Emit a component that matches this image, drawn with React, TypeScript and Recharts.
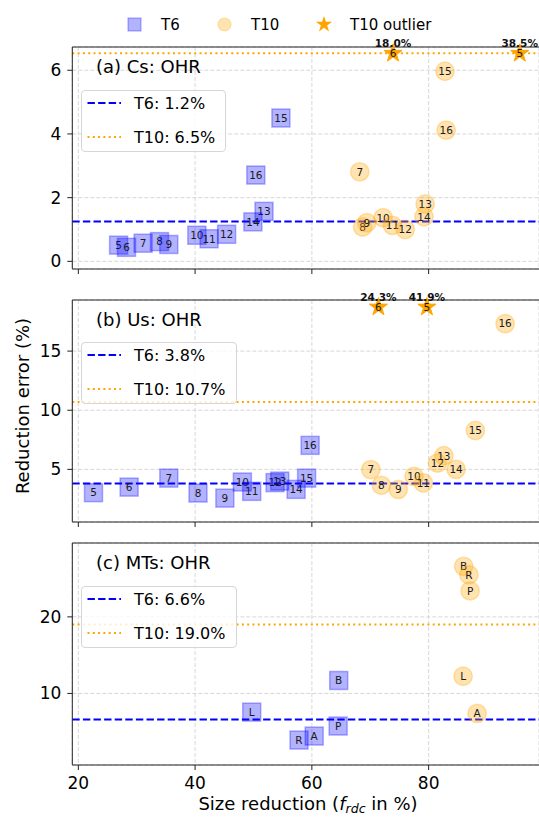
import React from "react";
import { CartesianGrid, ReferenceLine, Scatter, ScatterChart, XAxis, YAxis } from "recharts";

const FONT = '"DejaVu Sans", sans-serif';
const W = 539;
const PLOT_LEFT = 72.3;
const PLOT_H = 222;
const X_DOMAIN: [number, number] = [18.97, 98.9];
const X_TICKS = [20, 40, 60, 80];

// (a) Cs: OHR
const csT6Labels = ["5", "6", "7", "8", "9", "10", "11", "12", "13", "14", "15", "16"];
const csT6X = [26.9, 28.25, 31.1, 33.9, 35.5, 40.3, 42.4, 45.4, 51.8, 49.9, 54.7, 50.4];
const csT6Y = [0.51, 0.44, 0.57, 0.62, 0.53, 0.82, 0.71, 0.85, 1.57, 1.24, 4.5, 2.71];
const csT10Labels = ["7", "8", "9", "10", "11", "12", "13", "14", "15", "16"];
const csT10X = [68.2, 68.7, 69.4, 72.2, 73.8, 76.0, 79.4, 79.2, 82.8, 83.0];
const csT10Y = [2.81, 1.08, 1.21, 1.37, 1.13, 1.0, 1.8, 1.4, 5.97, 4.12];
const csOutLabels = ["6", "5"];
const csOutX = [73.9, 95.6];
const csOutValues = ["18.0%", "38.5%"];
const csCap = 6.53;
const csMeans = [1.25, 6.53];
const csMeanText = ["1.2%", "6.5%"];

// (b) Us: OHR
const usT6Labels = ["5", "6", "7", "8", "9", "10", "11", "12", "13", "14", "15", "16"];
const usT6X = [22.6, 28.7, 35.5, 40.5, 45.1, 48.1, 49.7, 53.7, 54.5, 57.3, 59.1, 59.7];
const usT6Y = [3.03, 3.5, 4.26, 3.0, 2.57, 3.93, 3.14, 3.88, 4.01, 3.31, 4.26, 7.03];
const usT10Labels = ["7", "8", "9", "10", "11", "12", "13", "14", "15", "16"];
const usT10X = [70.1, 71.9, 74.8, 77.5, 79.1, 81.5, 82.6, 84.7, 88.0, 93.1];
const usT10Y = [4.98, 3.65, 3.31, 4.41, 3.85, 5.53, 6.15, 5.0, 8.28, 17.32];
const usOutLabels = ["6", "5"];
const usOutX = [71.4, 79.7];
const usOutValues = ["24.3%", "41.9%"];
const usCap = 18.72;
const usMeans = [3.81, 10.69];
const usMeanText = ["3.8%", "10.7%"];

// (c) MTs: OHR
const mtT6Labels = ["L", "P", "B", "A", "R"];
const mtT6X = [49.7, 64.5, 64.6, 60.4, 57.8];
const mtT6Y = [7.56, 5.74, 11.69, 4.43, 3.91];
const mtT10Labels = ["B", "R", "P", "L", "A"];
const mtT10X = [86.0, 86.9, 87.1, 85.9, 88.3];
const mtT10Y = [26.6, 25.5, 23.4, 12.25, 7.39];
const mtMeans = [6.61, 19.0];
const mtMeanText = ["6.6%", "19.0%"];

type Pt = { label: string; x: number; y: number; value?: string };

const zip = (labels: string[], xs: number[], ys: number[]): Pt[] =>
  labels.map((label, i) => ({ label, x: xs[i], y: ys[i] }));

const outliers = (labels: string[], xs: number[], cap: number, values: string[]): Pt[] =>
  labels.map((label, i) => ({ label, x: xs[i], y: cap, value: values[i] }));

function starPoints(cx: number, cy: number, R: number, r: number) {
  const pts: string[] = [];
  for (let i = 0; i < 10; i++) {
    const rad = i % 2 === 0 ? R : r;
    const a = -Math.PI / 2 + (i * Math.PI) / 5;
    pts.push(`${cx + rad * Math.cos(a)},${cy + rad * Math.sin(a)}`);
  }
  return pts.join(" ");
}

function SquareMark(props: any) {
  const { cx, cy, payload } = props;
  if (cx == null || cy == null) return null;
  return (
    <g>
      <rect x={cx - 9} y={cy - 9} width={18} height={18} fill="#0000ff" fillOpacity={0.3} stroke="#0000ff" strokeOpacity={0.3} strokeWidth={1.5} />
      <text x={cx} y={cy} dy="0.36em" textAnchor="middle" fontSize={10.5} fontFamily={FONT} fill="#1a1a1a">
        {payload.label}
      </text>
    </g>
  );
}

function CircleMark(props: any) {
  const { cx, cy, payload } = props;
  if (cx == null || cy == null) return null;
  return (
    <g>
      <circle cx={cx} cy={cy} r={9.2} fill="#ffa500" fillOpacity={0.3} stroke="#ffa500" strokeOpacity={0.3} strokeWidth={1.5} />
      <text x={cx} y={cy} dy="0.36em" textAnchor="middle" fontSize={10.5} fontFamily={FONT} fill="#1a1a1a">
        {payload.label}
      </text>
    </g>
  );
}

function StarMark(props: any) {
  const { cx, cy, payload } = props;
  if (cx == null || cy == null) return null;
  return (
    <g>
      <polygon points={starPoints(cx, cy, 9.5, 3.7)} fill="#ffa500" stroke="#ffa500" strokeWidth={1} />
      <text x={cx} y={cy} dy="0.36em" textAnchor="middle" fontSize={10.5} fontFamily={FONT} fill="#1a1a1a">
        {payload.label}
      </text>
      <text x={cx} y={cy - 6.5} textAnchor="middle" fontSize={10.5} fontWeight="bold" fontFamily={FONT} fill="#111">
        {payload.value}
      </text>
    </g>
  );
}

type PanelProps = {
  title: string;
  plotTop: number;
  yDomain: [number, number];
  yTicks: number[];
  t6: Pt[];
  t10: Pt[];
  out: Pt[];
  means: number[];
  meanText: string[];
  legendW: number;
  xLabels: boolean;
};

function Panel(p: PanelProps) {
  const xAxisH = p.xLabels ? 34 : 10;
  const marginTop = 20;
  return (
    <>
      <div style={{ position: "absolute", left: 0, top: p.plotTop - marginTop }}>
        <ScatterChart width={W} height={marginTop + PLOT_H + xAxisH} margin={{ top: marginTop, right: 0, bottom: 0, left: 0 }}>
          <CartesianGrid stroke="#d3d3d3" strokeDasharray="4 2" strokeWidth={0.9} />
          <XAxis
            type="number"
            dataKey="x"
            domain={X_DOMAIN}
            ticks={X_TICKS}
            height={xAxisH}
            stroke="#222"
            tickSize={5}
            tickMargin={7}
            tick={{ fill: "#000", fontSize: 17, fontFamily: FONT }}
            tickFormatter={(v) => (p.xLabels ? String(v) : "")}
          />
          <YAxis
            type="number"
            dataKey="y"
            domain={p.yDomain}
            ticks={p.yTicks}
            width={PLOT_LEFT}
            stroke="#222"
            tickSize={5}
            tickMargin={6}
            tick={{ fill: "#000", fontSize: 17, fontFamily: FONT }}
          />
          <ReferenceLine y={p.yDomain[1]} stroke="#222" strokeWidth={1.2} />
          <Scatter data={p.t6} shape={SquareMark} isAnimationActive={false} />
          <Scatter data={p.t10} shape={CircleMark} isAnimationActive={false} />
          <ReferenceLine y={p.means[0]} stroke="#0000ff" strokeWidth={2} strokeDasharray="7.4 3.2" />
          <ReferenceLine y={p.means[1]} stroke="#ffa500" strokeWidth={2} strokeDasharray="2 3.3" />
          {p.out.length > 0 && <Scatter data={p.out} shape={StarMark} isAnimationActive={false} />}
        </ScatterChart>
      </div>
      <div
        style={{
          position: "absolute",
          left: 96,
          top: p.plotTop + 9,
          fontSize: 18,
          lineHeight: "22px",
          fontFamily: FONT,
          color: "#000",
          whiteSpace: "nowrap",
        }}
      >
        {p.title}
      </div>
      <div
        style={{
          position: "absolute",
          left: 80.7,
          top: p.plotTop + 42.5,
          width: p.legendW,
          height: 62,
          boxSizing: "border-box",
          border: "1px solid #d6d6d6",
          borderRadius: 4,
          background: "rgba(255,255,255,0.8)",
        }}
      >
        <svg width={p.legendW} height={62} style={{ position: "absolute", left: -1, top: -1 }}>
          <line x1={6.5} x2={40} y1={13} y2={13} stroke="#0000ff" strokeWidth={2} strokeDasharray="7.4 3.2" />
          <line x1={6.5} x2={40} y1={47} y2={47} stroke="#ffa500" strokeWidth={2} strokeDasharray="2 3.3" />
          <text x={53} y={13} dy="0.36em" fontSize={16} fontFamily={FONT} fill="#000">
            T6: {p.meanText[0]}
          </text>
          <text x={53} y={47} dy="0.36em" fontSize={16} fontFamily={FONT} fill="#000">
            T10: {p.meanText[1]}
          </text>
        </svg>
      </div>
    </>
  );
}

export default function App() {
  return (
    <div style={{ position: "absolute", left: 0, top: 0, width: W, height: 820, overflow: "hidden", background: "#fff" }}>
      <svg width={W} height={40} style={{ position: "absolute", left: 0, top: 0 }}>
        <rect x={128} y={18} width={13} height={13} fill="#0000ff" fillOpacity={0.3} stroke="#0000ff" strokeOpacity={0.3} strokeWidth={1.2} />
        <text x={161} y={24.5} dy="0.36em" fontSize={15} fontFamily={FONT} fill="#000">T6</text>
        <circle cx={224.5} cy={24.5} r={6.5} fill="#ffa500" fillOpacity={0.3} stroke="#ffa500" strokeOpacity={0.3} strokeWidth={1.2} />
        <text x={251} y={24.5} dy="0.36em" fontSize={15} fontFamily={FONT} fill="#000">T10</text>
        <polygon points={starPoints(324, 24.5, 8.5, 3.3)} fill="#ffa500" />
        <text x={350} y={24.5} dy="0.36em" fontSize={15} fontFamily={FONT} fill="#000">T10 outlier</text>
      </svg>

      <Panel
        title="(a) Cs: OHR"
        plotTop={47.3}
        yDomain={[-0.24, 6.73]}
        yTicks={[0, 2, 4, 6]}
        t6={zip(csT6Labels, csT6X, csT6Y)}
        t10={zip(csT10Labels, csT10X, csT10Y)}
        out={outliers(csOutLabels, csOutX, csCap, csOutValues)}
        means={csMeans}
        meanText={csMeanText}
        legendW={145}
        xLabels={false}
      />
      <Panel
        title="(b) Us: OHR"
        plotTop={299.6}
        yDomain={[0.55, 19.32]}
        yTicks={[5, 10, 15]}
        t6={zip(usT6Labels, usT6X, usT6Y)}
        t10={zip(usT10Labels, usT10X, usT10Y)}
        out={outliers(usOutLabels, usOutX, usCap, usOutValues)}
        means={usMeans}
        meanText={usMeanText}
        legendW={156}
        xLabels={false}
      />
      <Panel
        title="(c) MTs: OHR"
        plotTop={543.3}
        yDomain={[0.65, 29.65]}
        yTicks={[10, 20]}
        t6={zip(mtT6Labels, mtT6X, mtT6Y)}
        t10={zip(mtT10Labels, mtT10X, mtT10Y)}
        out={[]}
        means={mtMeans}
        meanText={mtMeanText}
        legendW={156}
        xLabels={true}
      />

      <div
        style={{
          position: "absolute",
          left: 21.7,
          top: 406,
          transform: "translate(-50%, -50%) rotate(-90deg)",
          fontSize: 18,
          fontFamily: FONT,
          whiteSpace: "nowrap",
          color: "#000",
        }}
      >
        Reduction error (%)
      </div>
      <div
        style={{
          position: "absolute",
          left: 308,
          top: 805,
          transform: "translate(-50%, -50%)",
          fontSize: 18,
          lineHeight: "20px",
          fontFamily: FONT,
          whiteSpace: "nowrap",
          color: "#000",
        }}
      >
        Size reduction (<i>f</i>
        <i style={{ fontSize: 12.6, position: "relative", top: 3 }}>rdc</i> in %)
      </div>
    </div>
  );
}
